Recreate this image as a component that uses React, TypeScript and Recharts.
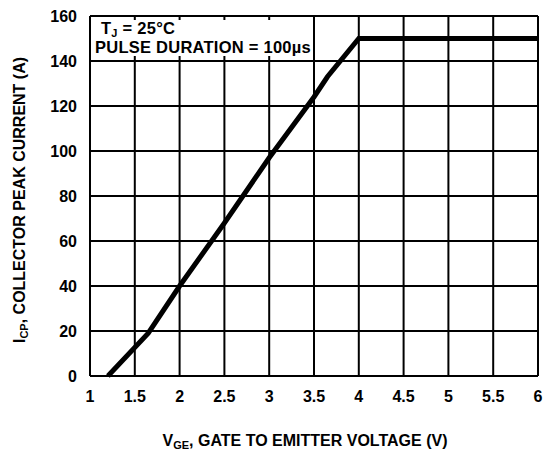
import React from 'react';
import { LineChart, Line, XAxis, YAxis, CartesianGrid } from 'recharts';

// gate voltage (V) vs collector peak current (A)
const vge = [1.2, 1.65, 2.0, 2.5, 3.0, 3.5, 3.65, 4.0, 6.0];
const icp = [0, 19, 40, 68, 97, 124, 133, 150, 150];

const xTicks = [1, 1.5, 2, 2.5, 3, 3.5, 4, 4.5, 5, 5.5, 6];
const yTicks = [0, 20, 40, 60, 80, 100, 120, 140, 160];

const data = vge.map((v, i) => ({ v, a: icp[i] }));

const FONT = '"Liberation Sans", Arial, Helvetica, sans-serif';
const tickStyle = { fill: '#000', fontSize: 16, fontWeight: 700, fontFamily: FONT };

export default function App() {
  return (
    <div style={{ position: 'absolute', left: 0, top: 0, width: 543, height: 450, background: '#fff' }}>
      <LineChart width={543} height={450} data={data} margin={{ top: 16, right: 5, left: 0, bottom: 0 }}>
        <CartesianGrid stroke="#000" strokeWidth={2} horizontalValues={yTicks} verticalValues={xTicks} />
        <XAxis
          dataKey="v"
          type="number"
          domain={[1, 6]}
          ticks={xTicks}
          tick={tickStyle}
          tickSize={0}
          tickMargin={15}
          height={74}
          axisLine={{ stroke: '#000', strokeWidth: 2 }}
          tickLine={false}
          interval={0}
        />
        <YAxis
          type="number"
          domain={[0, 160]}
          ticks={yTicks}
          tick={tickStyle}
          tickSize={0}
          tickMargin={13}
          width={90}
          axisLine={{ stroke: '#000', strokeWidth: 2 }}
          tickLine={false}
          interval={0}
        />
        <Line
          dataKey="a"
          type="linear"
          stroke="#000"
          strokeWidth={5}
          dot={false}
          isAnimationActive={false}
        />
      </LineChart>
      <svg
        width={543}
        height={450}
        style={{ position: 'absolute', left: 0, top: 0, pointerEvents: 'none' }}
        fontFamily={FONT}
        fontWeight={700}
      >
        <rect x={91} y={20} width={212} height={36} fill="#fff" />
        <text x={101} y={34} fontSize={16.5} letterSpacing={0.25}>
          T<tspan fontSize={11} dy={3}>J</tspan>
          <tspan dy={-3}> = 25°C</tspan>
        </text>
        <text x={95} y={52.5} fontSize={16.5} letterSpacing={0.25}>PULSE DURATION = 100µs</text>
        <text x={305} y={446} fontSize={16} textAnchor="middle">
          V<tspan fontSize={11} dy={3}>GE</tspan>
          <tspan dy={-3}>, GATE TO EMITTER VOLTAGE (V)</tspan>
        </text>
        <text x={0} y={0} fontSize={16} textAnchor="middle" transform="translate(25 200) rotate(-90)">
          I<tspan fontSize={11} dy={3}>CP</tspan>
          <tspan dy={-3}>,  COLLECTOR PEAK CURRENT (A)</tspan>
        </text>
      </svg>
    </div>
  );
}
